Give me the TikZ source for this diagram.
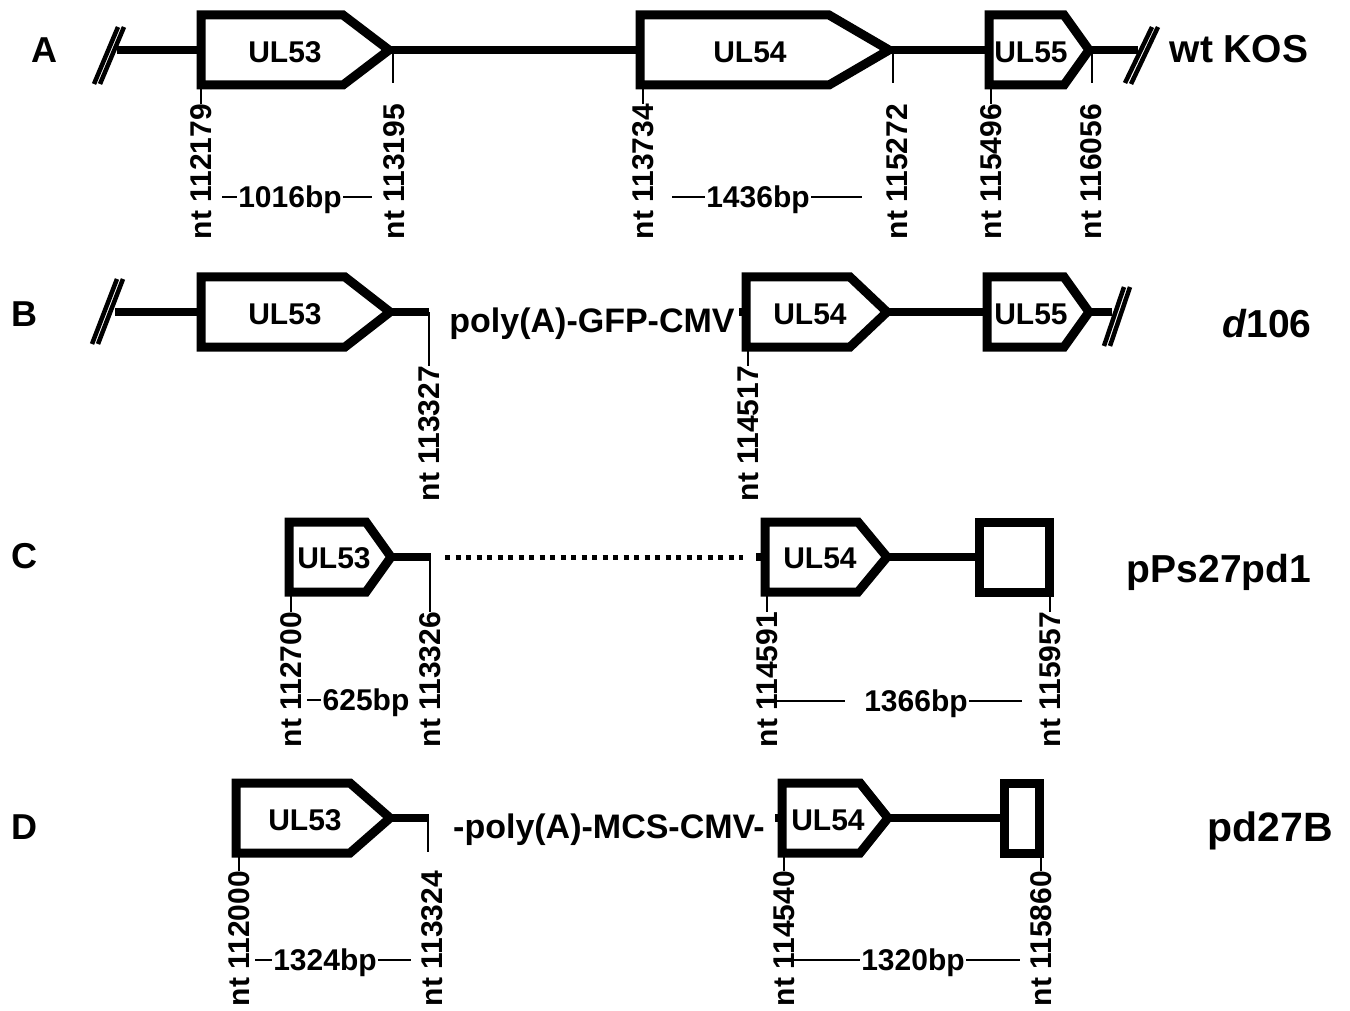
\documentclass[tikz,border=0pt]{standalone}
\usepackage{fontspec}
\setmainfont{Liberation Sans}
\usetikzlibrary{positioning}
\newcommand{\ntsize}{\fontsize{30}{31}\selectfont\bfseries}
\newcommand{\genesize}{\fontsize{30}{31}\selectfont\bfseries}
\newcommand{\inssize}{\fontsize{34}{35}\selectfont\bfseries}
\newcommand{\namesize}{\fontsize{39}{40}\selectfont\bfseries}
\newcommand{\rowsize}{\fontsize{36}{37}\selectfont\bfseries}

\begin{document}
\begin{tikzpicture}[x=1pt, y=-1pt,
    gene/.style={draw, line width=9pt, fill=white},
    dna/.style={line width=8pt},
    brk/.style={line width=4.5pt},
    ntick/.style={line width=2pt},
    bpline/.style={line width=1.8pt},
    dotgap/.style={line width=5pt, dash pattern=on 5pt off 5.5pt},
    ntl/.style={rotate=90, anchor=east, inner sep=0pt, font=\ntsize},
    bpl/.style={inner sep=1.5pt, text depth=0pt, font=\ntsize},
    glbl/.style={anchor=base, inner sep=0pt, font=\genesize},
    ins/.style={anchor=base, inner sep=0pt, font=\inssize},
    cname/.style={anchor=base, inner sep=0pt, font=\namesize},
    rowl/.style={anchor=base, inner sep=0pt, font=\rowsize},
  ]
  \useasboundingbox (0,0) rectangle (1350,1011);

  % ---------------- A: wt KOS
  \node[rowl] (rA) at (44,63) {A};
  \draw[brk] (94,84) -- (118,27) (100,84) -- (124,27);
  \draw[dna] (117,50) -- (1138,50);
  \draw[brk] (1125,83) -- (1152,27) (1131,84) -- (1158,27);
  \draw[gene] (201,15) -- (343,15) -- (389,50) -- (343,85) -- (201,85) -- cycle;
  \draw[gene] (640,15) -- (829,15) -- (889,50) -- (829,85) -- (640,85) -- cycle;
  \draw[gene] (989,15) -- (1064,15) -- (1089,50) -- (1064,85) -- (989,85) -- cycle;
  \node[glbl] (a53) at (285,63) {UL53};
  \node[glbl] (a54) at (750,63) {UL54};
  \node[glbl] (a55) at (1031,63) {UL55};
  \node[cname] (wt) at (1239,63) {wt KOS};
  \node[ntl] (nA1) at (201,104) {nt 112179};
  \node[ntl] (nA2) at (394,104) {nt 113195};
  \node[ntl] (nA3) at (643,104) {nt 113734};
  \node[ntl] (nA4) at (897,104) {nt 115272};
  \node[ntl] (nA5) at (991,104) {nt 115496};
  \node[ntl] (nA6) at (1091,104) {nt 116056};
  \draw[ntick] (201,89) -- (nA1.east);
  \draw[ntick] (643,89) -- (nA3.east);
  \draw[ntick] (991,89) -- (nA5.east);
  \draw[ntick] (393,50) -- (393,83);
  \draw[ntick] (893,50) -- (893,83);
  \draw[ntick] (1092,50) -- (1092,83);
  \node[bpl] (bpA1) at (290,197) {1016bp};
  \draw[bpline] (222,197) -- (bpA1.west);
  \draw[bpline] (bpA1.east) -- (372,197);
  \node[bpl] (bpA2) at (758,197) {1436bp};
  \draw[bpline] (672,197) -- (bpA2.west);
  \draw[bpline] (bpA2.east) -- (862,197);

  % ---------------- B: d106
  \node[rowl] (rB) at (24,326) {B};
  \draw[brk] (92,344) -- (117,279) (98,344) -- (123,279);
  \draw[dna] (115,312) -- (429,312);
  \draw[dna] (739,312) -- (1112,312);
  \draw[brk] (1104,346) -- (1124,287) (1110,346) -- (1130,287);
  \draw[gene] (201,277) -- (345,277) -- (390,312) -- (345,347) -- (201,347) -- cycle;
  \draw[gene] (746,277) -- (850,277) -- (887,312) -- (850,347) -- (746,347) -- cycle;
  \draw[gene] (987,277) -- (1064,277) -- (1089,312) -- (1064,347) -- (987,347) -- cycle;
  \node[glbl] (b53) at (285,324) {UL53};
  \node[glbl] (b54) at (810,324) {UL54};
  \node[glbl] (b55) at (1031,324) {UL55};
  \node[ins] (gfp) at (592,332) {poly(A)-GFP-CMV};
  \node[cname] (d106) at (1267,337) {{\itshape d}106};
  \node[ntl] (nB1) at (429,366) {nt 113327};
  \node[ntl] (nB2) at (748,366) {nt 114517};
  \draw[ntick] (429,312) -- (nB1.east);
  \draw[ntick] (748,351) -- (nB2.east);

  % ---------------- C: pPs27pd1
  \node[rowl] (rC) at (24,568) {C};
  \draw[dna] (380,557) -- (431,557);
  \draw[dotgap] (445,557) -- (743,557);
  \draw[dna] (756,557) -- (979,557);
  \draw[gene] (289,522) -- (366,522) -- (391,557) -- (366,592) -- (289,592) -- cycle;
  \draw[gene] (765,522) -- (858,522) -- (887,557) -- (858,592) -- (765,592) -- cycle;
  \draw[gene] (979,522) rectangle (1049,592);
  \node[glbl] (c53) at (334,568) {UL53};
  \node[glbl] (c54) at (820,568) {UL54};
  \node[cname] (pps) at (1219,582) {pPs27pd1};
  \node[ntl] (nC1) at (291,612) {nt 112700};
  \node[ntl] (nC2) at (430,612) {nt 113326};
  \node[ntl] (nC3) at (767,612) {nt 114591};
  \node[ntl] (nC4) at (1050,612) {nt 115957};
  \draw[ntick] (291,596) -- (nC1.east);
  \draw[ntick] (430,557) -- (nC2.east);
  \draw[ntick] (767,596) -- (nC3.east);
  \draw[ntick] (1050,596) -- (nC4.east);
  \node[bpl] (bpC1) at (366,700) {625bp};
  \draw[bpline] (307,700) -- (bpC1.west);
  \node[bpl] (bpC2) at (916,701) {1366bp};
  \draw[bpline] (777,701) -- ([xshift=-18pt]bpC2.west);
  \draw[bpline] (bpC2.east) -- (1022,701);

  % ---------------- D: pd27B
  \node[rowl] (rD) at (24,839) {D};
  \draw[dna] (380,818) -- (429,818);
  \draw[dna] (775,818) -- (1004,818);
  \draw[gene] (236,783) -- (350,783) -- (390,818) -- (350,853) -- (236,853) -- cycle;
  \draw[gene] (782,783) -- (860,783) -- (888,818) -- (860,853) -- (782,853) -- cycle;
  \draw[gene] (1004,783) rectangle (1039,853);
  \node[glbl] (d53) at (305,830) {UL53};
  \node[glbl] (d54) at (828,830) {UL54};
  \node[ins] (mcs) at (609,838) {-poly(A)-MCS-CMV-};
  \node[cname, font=\fontsize{41}{42}\selectfont\bfseries] (pd) at (1270,841) {pd27B};
  \node[ntl] (nD1) at (239,871) {nt 112000};
  \node[ntl] (nD2) at (432,871) {nt 113324};
  \node[ntl] (nD3) at (784,871) {nt 114540};
  \node[ntl] (nD4) at (1041,871) {nt 115860};
  \draw[ntick] (239,857) -- (nD1.east);
  \draw[ntick] (428,818) -- (428,852);
  \draw[ntick] (784,857) -- (nD3.east);
  \draw[ntick] (1041,857) -- (nD4.east);
  \node[bpl] (bpD1) at (325,960) {1324bp};
  \draw[bpline] (255,960) -- (bpD1.west);
  \draw[bpline] (bpD1.east) -- (411,960);
  \node[bpl] (bpD2) at (913,960) {1320bp};
  \draw[bpline] (793,960) -- (bpD2.west);
  \draw[bpline] (bpD2.east) -- (1020,960);
\end{tikzpicture}
\end{document}
